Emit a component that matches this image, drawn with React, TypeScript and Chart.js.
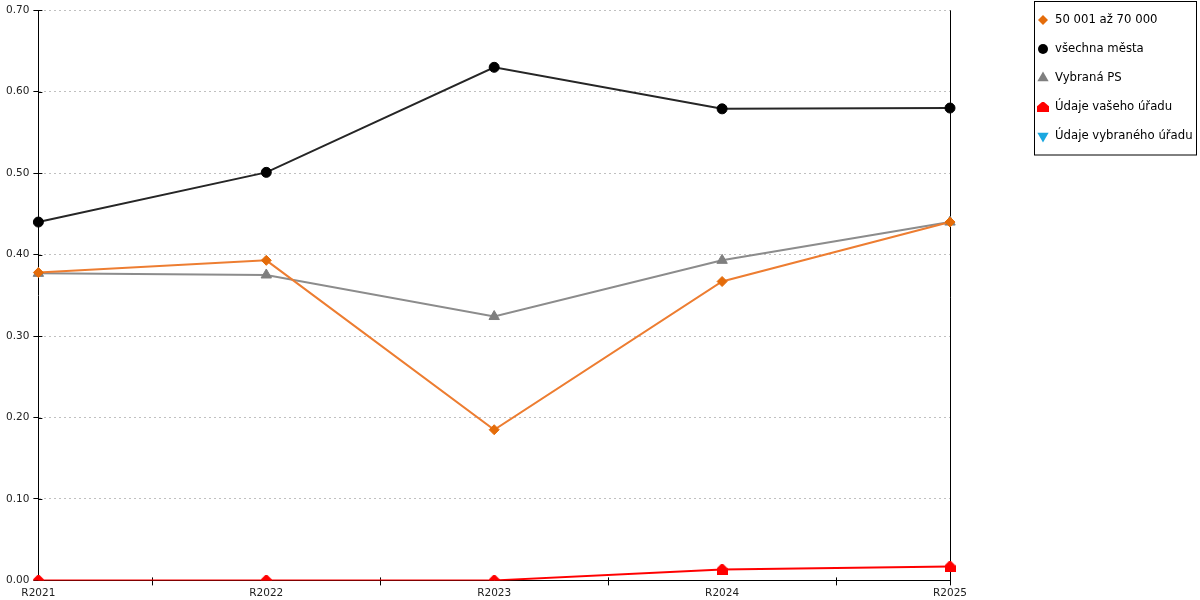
import React, { useEffect, useRef } from "react";
import { Chart, registerables } from "chart.js";
import { drawPoint } from "chart.js/helpers";

Chart.register(...registerables);

const categories = ["R2021", "R2022", "R2023", "R2024", "R2025"];
const seriesNames = [
  "50 001 až 70 000",
  "všechna města",
  "Vybraná PS",
  "Údaje vašeho úřadu",
  "Údaje vybraného úřadu",
];
const group50to70 = [0.378, 0.393, 0.185, 0.367, 0.44];
const allCities = [0.44, 0.501, 0.63, 0.579, 0.58];
const selectedPS = [0.377, 0.375, 0.324, 0.393, 0.44];
const yourOffice = [0, 0, 0, 0.0135, 0.017];
const selectedOffice: (number | null)[] = [null, null, null, null, null];
const yMin = 0;
const yMax = 0.7;
const yStep = 0.1;

const FONT = "DejaVu Sans";

function makeHouse(color: string, w: number, h: number) {
  const c = document.createElement("canvas");
  c.width = w;
  c.height = h;
  const ctx = c.getContext("2d")!;
  ctx.fillStyle = color;
  ctx.beginPath();
  ctx.moveTo(w / 2 - 1, 0);
  ctx.lineTo(w / 2 + 1, 0);
  ctx.lineTo(w, h * 0.42);
  ctx.lineTo(w, h);
  ctx.lineTo(0, h);
  ctx.lineTo(0, h * 0.42);
  ctx.closePath();
  ctx.fill();
  return c;
}

export default function App() {
  const ref = useRef<HTMLCanvasElement | null>(null);

  useEffect(() => {
    if (!ref.current) return;
    const house = makeHouse("#ff0000", 11, 11);
    const houseSmall = makeHouse("#ff0000", 12, 10);

    const legendMarkers = [
      { pointStyle: "rectRot", radius: 5, rotation: 0, fill: "#e46c0a" },
      { pointStyle: "circle", radius: 5, rotation: 0, fill: "#000000" },
      { pointStyle: "triangle", radius: 6.5, rotation: 0, fill: "#7f7f7f" },
      { pointStyle: houseSmall, radius: 5, rotation: 0, fill: "#ff0000" },
      { pointStyle: "triangle", radius: 6.5, rotation: 180, fill: "#1aa7e0" },
    ];

    const decor = {
      id: "decor",
      beforeDatasetsDraw(chart: any) {
        const { ctx, chartArea } = chart;
        const xs = chart.scales.x;
        const ys = chart.scales.y;
        ctx.save();
        ctx.strokeStyle = "#000";
        ctx.lineWidth = 1;
        ctx.setLineDash([]);
        const xr = Math.round(xs.getPixelForValue(categories.length - 1)) + 0.5;
        ctx.beginPath();
        ctx.moveTo(xr, chartArea.top);
        ctx.lineTo(xr, chartArea.bottom + 5);
        ctx.stroke();
        for (let v = yMin; v <= yMax + 1e-9; v += yStep) {
          const py = Math.round(ys.getPixelForValue(v)) + 0.5;
          ctx.beginPath();
          ctx.moveTo(chartArea.left, py);
          ctx.lineTo(chartArea.left + 4, py);
          ctx.stroke();
        }
        for (let i = 0; i < categories.length - 1; i++) {
          const px = Math.round((xs.getPixelForValue(i) + xs.getPixelForValue(i + 1)) / 2) + 0.5;
          ctx.beginPath();
          ctx.moveTo(px, chartArea.bottom - 3);
          ctx.lineTo(px, chartArea.bottom);
          ctx.stroke();
        }
        ctx.restore();
      },
      afterDraw(chart: any) {
        const { ctx } = chart;
        ctx.save();
        ctx.strokeStyle = "#000";
        ctx.lineWidth = 1;
        ctx.strokeRect(1034.5, 1.5, 162, 153.5);
        ctx.font = `11.7px "${FONT}"`;
        ctx.textBaseline = "middle";
        ctx.textAlign = "left";
        seriesNames.forEach((name, i) => {
          const y = 20 + i * 29;
          const m = legendMarkers[i];
          ctx.fillStyle = m.fill;
          ctx.strokeStyle = m.fill;
          drawPoint(ctx, { pointStyle: m.pointStyle, radius: m.radius, rotation: m.rotation, borderWidth: 0 } as any, 1043, y);
          ctx.fillStyle = "#000";
          ctx.fillText(name, 1055, y);
        });
        ctx.restore();
      },
    };

    const chart = new Chart(ref.current, {
      type: "line",
      data: {
        labels: categories,
        datasets: [
          {
            label: seriesNames[0],
            data: group50to70,
            borderColor: "#ed7d31",
            backgroundColor: "#e46c0a",
            pointBackgroundColor: "#e46c0a",
            pointBorderColor: "#e46c0a",
            pointStyle: "rectRot",
            pointRadius: 5,
            pointBorderWidth: 1,
            borderWidth: 2,
            tension: 0,
          },
          {
            label: seriesNames[1],
            data: allCities,
            borderColor: "#262626",
            backgroundColor: "#000",
            pointBackgroundColor: "#000",
            pointBorderColor: "#000",
            pointStyle: "circle",
            pointRadius: 5,
            pointBorderWidth: 1,
            borderWidth: 2,
            tension: 0,
          },
          {
            label: seriesNames[2],
            data: selectedPS,
            borderColor: "#8c8c8c",
            backgroundColor: "#7f7f7f",
            pointBackgroundColor: "#7f7f7f",
            pointBorderColor: "#7f7f7f",
            pointStyle: "triangle",
            pointRadius: 6,
            pointBorderWidth: 1,
            borderWidth: 2,
            tension: 0,
          },
          {
            label: seriesNames[3],
            data: yourOffice,
            borderColor: "#ff0000",
            backgroundColor: "#ff0000",
            pointBackgroundColor: "#ff0000",
            pointBorderColor: "#ff0000",
            pointStyle: house as any,
            pointRadius: 5,
            borderWidth: 2,
            tension: 0,
          },
          {
            label: seriesNames[4],
            data: selectedOffice,
            borderColor: "#1aa7e0",
            backgroundColor: "#1aa7e0",
            pointBackgroundColor: "#1aa7e0",
            pointBorderColor: "#1aa7e0",
            pointStyle: "triangle",
            pointRotation: 180,
            pointRadius: 6,
            borderWidth: 2,
            tension: 0,
          },
        ],
      },
      options: {
        responsive: false,
        animation: false,
        layout: { padding: { left: 2, right: 250, top: 10, bottom: -2 } },
        plugins: {
          legend: { display: false },
          tooltip: { enabled: false },
        },
        scales: {
          x: {
            type: "category",
            offset: false,
            grid: {
              display: true,
              drawOnChartArea: false,
              offset: true,
              drawTicks: true,
              tickLength: 5,
              tickColor: "#000",
              color: "#000",
            },
            border: { display: true, color: "#000", width: 1 },
            ticks: {
              font: { family: FONT, size: 10.5 },
              color: "#222",
              padding: 2,
              maxRotation: 0,
              autoSkip: false,
            },
          },
          y: {
            min: yMin,
            max: yMax,
            grid: {
              color: "#c0c0c0",
              tickColor: "#000",
              tickLength: 5,
              tickBorderDash: [],
              drawTicks: true,
            },
            border: { display: true, color: "#000", width: 1, dash: [2, 3] },
            ticks: {
              stepSize: yStep,
              callback: (v: any) => Number(v).toFixed(2),
              font: { family: FONT, size: 10.5 },
              color: "#222",
              padding: 4,
            },
          },
        },
      },
      plugins: [decor],
    } as any);

    return () => chart.destroy();
  }, []);

  return (
    <div style={{ position: "fixed", left: 0, top: 0, width: 1200, height: 600, background: "#fff" }}>
      <canvas ref={ref} width={1200} height={600} style={{ display: "block", width: 1200, height: 600 }} />
    </div>
  );
}
